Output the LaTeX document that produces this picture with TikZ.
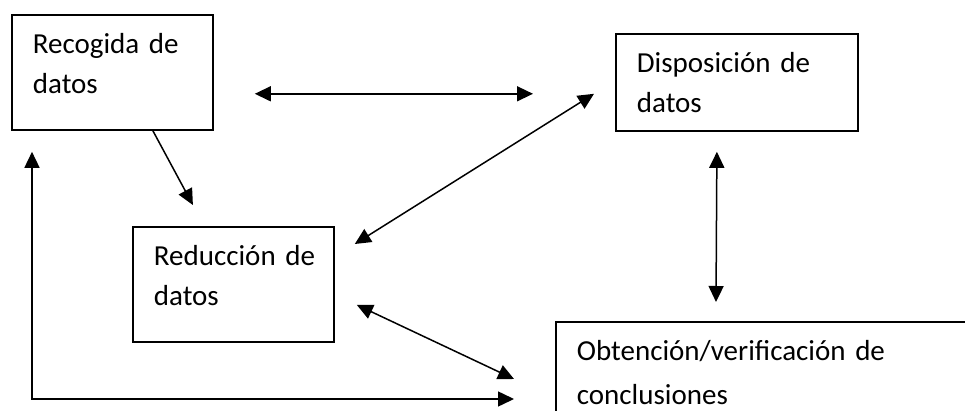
\documentclass[tikz,border=0pt]{standalone}
\usepackage{fontspec}
\setmainfont{Carlito}
\usepackage{tikz}
\usetikzlibrary{positioning,calc,arrows.meta}

\begin{document}
\begin{tikzpicture}[x=1pt,y=-1pt,
        caja/.style={draw, line width=1.8pt, anchor=north west, align=left,
            inner xsep=21pt, inner ysep=0pt, text height=39pt,
            font=\fontsize{29}{40}\selectfont},
        flecha/.style={line width=1.5pt, {Triangle[length=16pt,width=15pt]}-{Triangle[length=16pt,width=15pt]}},
        uno/.style={line width=1.5pt, -{Triangle[length=16pt,width=15pt]}}]
        \clip (0,0) rectangle (965,411);
        % Boxes
        \node[caja, text width=159pt, text depth=76pt] (rec) at (11,14) {Recogida~de\\datos};
        \node[caja, text width=200pt, text depth=58pt] (dis) at (615,33) {Disposición~de\\datos};
        \node[caja, text width=159pt, text depth=76pt] (red) at (132,226) {Reducción~de\\datos};
        \node[caja, text width=440pt, text depth=120pt,
            font=\fontsize{29}{44}\selectfont] (obt) at (555,321) {Obtención/verificación~de\\conclusiones};
        % Arrows
        \draw[flecha] ($(rec.south east)+(41,-37)$) -- ($(dis.south west)+(-82,-38)$);
        \draw[uno] ($(rec.south)+(40.5,0)$) -- ($(red.north)+(-40.5,-21)$);
        \draw[flecha] ($(red.north east)+(20,18)$) -- ($(dis.south west)+(-21,-38)$);
        \draw[flecha] ($(dis.south)+(-20,20)$) -- ($(obt.north west)+(161,-19)$);
        \draw[flecha] ($(red.east)+(22,20.5)$) -- ($(obt.north west)+(-41,58)$);
        \draw[flecha] ($(rec.south west)+(21,21)$) |- ($(obt.north west)+(-41,78)$);
    \end{tikzpicture}
\end{document}
